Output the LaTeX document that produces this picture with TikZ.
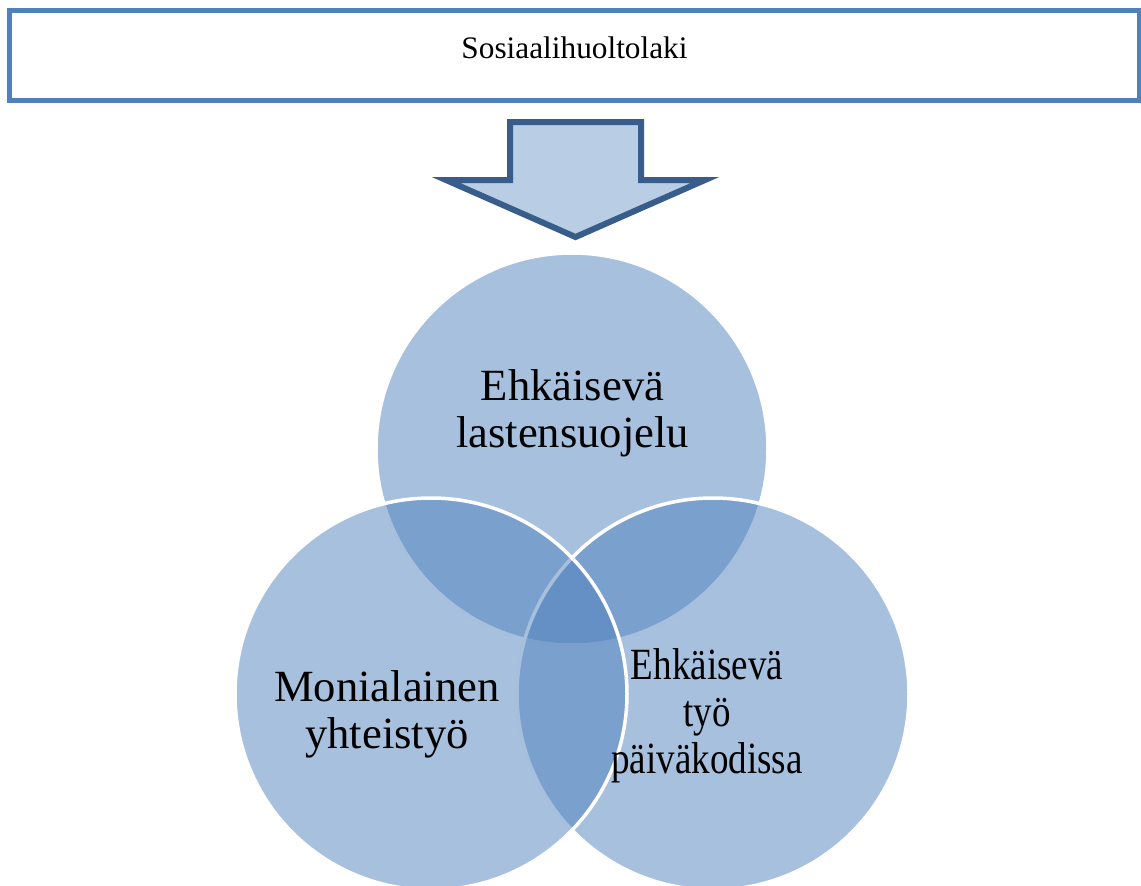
\documentclass[tikz,border=0pt]{standalone}
\usepackage{fontspec}
\setmainfont{Liberation Serif}
\usepackage{graphicx}
\definecolor{accent}{HTML}{4F81BD}
\definecolor{arrowfill}{HTML}{B9CDE5}
\definecolor{arrowline}{HTML}{385D8A}
\tikzset{
  lawbox/.style={draw=accent, line width=5pt, fill=white},
  bigarrow/.style={draw=arrowline, line width=6pt, fill=arrowfill, line join=miter},
  venn/.style={circle, inner sep=0pt, minimum size=392pt, fill=accent, fill opacity=0.5, draw=white, line width=3.5pt},
  venntext/.style={inner sep=0pt, font=\fontsize{44.6}{47}\selectfont}
}
\begin{document}
\begin{tikzpicture}[x=1pt,y=-1pt]
\useasboundingbox (0,0) rectangle (1141,886);
\clip (0,0) rectangle (1141,886);
% top box
\draw[lawbox] (9.5,10.5) rectangle (1139,100.5);
\node[inner sep=0pt, anchor=base, font=\fontsize{31.3}{36}\selectfont] (law) at (574.5,58) {Sosiaalihuoltolaki};
% arrow
\draw[bigarrow] (510,122) -- (641,122) -- (641,180) -- (705,180) -- (575.5,237) -- (446,180) -- (510,180) -- cycle;
% circles
\node[venn] (ctop) at (572,449) {};
\node[venn] (cright) at (713,694) {};
\node[venn] (cleft) at (431,694) {};
% texts
\node[venntext] (ttop) at (572.5,414.6) {\begin{tabular}{@{}c@{}}Ehkäisevä\\lastensuojelu\end{tabular}};
\node[venntext] (tleft) at (387,715.1) {\begin{tabular}{@{}c@{}}Monialainen\\yhteistyö\end{tabular}};
\node[venntext] (tright) at (707,716.6) {\scalebox{0.83}[1]{\begin{tabular}{@{}c@{}}Ehkäisevä\\työ\\päiväkodissa\end{tabular}}};
\end{tikzpicture}
\end{document}
